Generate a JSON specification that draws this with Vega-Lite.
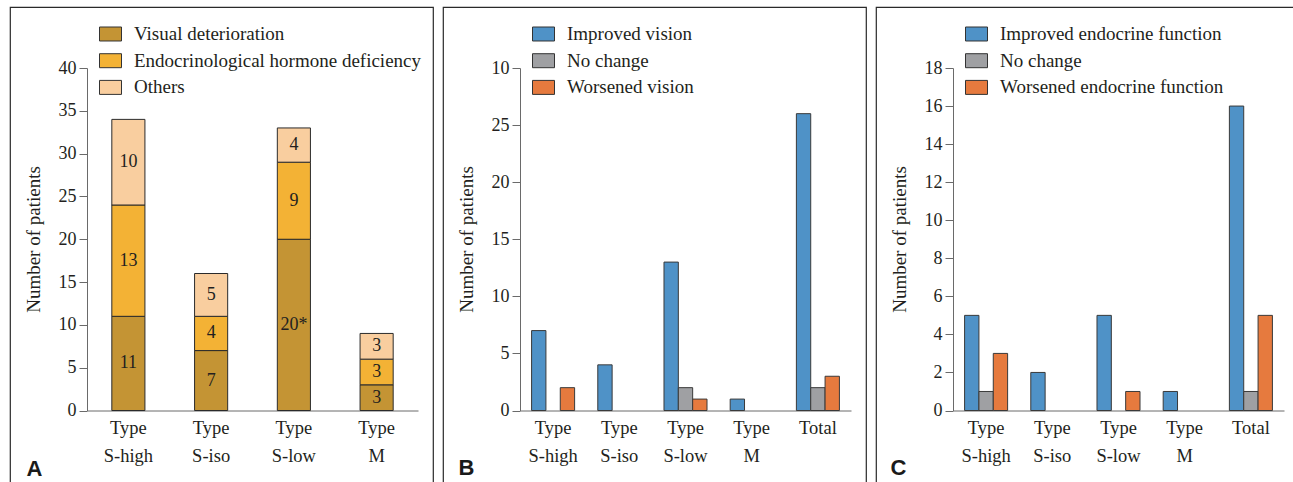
{
  "$schema": "https://vega.github.io/schema/vega-lite/v6.json",
  "padding": {"left": 9, "top": 6, "right": 0, "bottom": 0},
  "autosize": {"type": "pad"},
  "spacing": 8,
  "background": "white",
  "config": {
    "view": {"stroke": "#2a2a2a", "strokeWidth": 1.2},
    "font": "Liberation Serif",
    "axis": {
      "domainColor": "#6a6a6a",
      "tickColor": "#6a6a6a",
      "labelColor": "#231f20",
      "titleColor": "#231f20",
      "labelFont": "Liberation Serif",
      "titleFont": "Liberation Serif",
      "grid": false
    },
    "legend": {
      "labelFont": "Liberation Serif",
      "labelFontSize": 19,
      "labelColor": "#231f20",
      "labelLimit": 400,
      "padding": 0
    }
  },
  "datasets": {
    "A": [
      {"type": "Type S-high", "cat": "Visual deterioration", "k": 1, "n": 11, "label": "11"},
      {"type": "Type S-high", "cat": "Endocrinological hormone deficiency", "k": 2, "n": 13, "label": "13"},
      {"type": "Type S-high", "cat": "Others", "k": 3, "n": 10, "label": "10"},
      {"type": "Type S-iso", "cat": "Visual deterioration", "k": 1, "n": 7, "label": "7"},
      {"type": "Type S-iso", "cat": "Endocrinological hormone deficiency", "k": 2, "n": 4, "label": "4"},
      {"type": "Type S-iso", "cat": "Others", "k": 3, "n": 5, "label": "5"},
      {"type": "Type S-low", "cat": "Visual deterioration", "k": 1, "n": 20, "label": "20*"},
      {"type": "Type S-low", "cat": "Endocrinological hormone deficiency", "k": 2, "n": 9, "label": "9"},
      {"type": "Type S-low", "cat": "Others", "k": 3, "n": 4, "label": "4"},
      {"type": "Type M", "cat": "Visual deterioration", "k": 1, "n": 3, "label": "3"},
      {"type": "Type M", "cat": "Endocrinological hormone deficiency", "k": 2, "n": 3, "label": "3"},
      {"type": "Type M", "cat": "Others", "k": 3, "n": 3, "label": "3"}
    ],
    "B": [
      {"type": "Type S-high", "outcome": "Improved vision", "n": 7},
      {"type": "Type S-high", "outcome": "Worsened vision", "n": 2},
      {"type": "Type S-iso", "outcome": "Improved vision", "n": 4},
      {"type": "Type S-low", "outcome": "Improved vision", "n": 13},
      {"type": "Type S-low", "outcome": "No change", "n": 2},
      {"type": "Type S-low", "outcome": "Worsened vision", "n": 1},
      {"type": "Type M", "outcome": "Improved vision", "n": 1},
      {"type": "Total", "outcome": "Improved vision", "n": 26},
      {"type": "Total", "outcome": "No change", "n": 2},
      {"type": "Total", "outcome": "Worsened vision", "n": 3}
    ],
    "C": [
      {"type": "Type S-high", "outcome": "Improved endocrine function", "n": 5},
      {"type": "Type S-high", "outcome": "No change", "n": 1},
      {"type": "Type S-high", "outcome": "Worsened endocrine function", "n": 3},
      {"type": "Type S-iso", "outcome": "Improved endocrine function", "n": 2},
      {"type": "Type S-low", "outcome": "Improved endocrine function", "n": 5},
      {"type": "Type S-low", "outcome": "Worsened endocrine function", "n": 1},
      {"type": "Type M", "outcome": "Improved endocrine function", "n": 1},
      {"type": "Total", "outcome": "Improved endocrine function", "n": 16},
      {"type": "Total", "outcome": "No change", "n": 1},
      {"type": "Total", "outcome": "Worsened endocrine function", "n": 5}
    ]
  },
  "hconcat": [
    {
      "width": 423,
      "height": 480,
      "data": {"name": "A"},
      "encoding": {
        "x": {
          "field": "type", "type": "nominal",
          "sort": ["Type S-high", "Type S-iso", "Type S-low", "Type M"],
          "scale": {"range": [77, 408], "paddingInner": 0.6, "paddingOuter": 0.3},
          "axis": {
            "orient": "bottom", "offset": -76.5, "ticks": false, "labelPadding": 8,
            "labelAngle": 0, "labelFontSize": 18.5, "labelLineHeight": 27.5,
            "labelExpr": "split(datum.label, ' ')",
            "title": "A", "titleX": 16, "titleY": 64.5, "titleAlign": "left",
            "titleBaseline": "alphabetic", "titleFont": "Liberation Sans",
            "titleFontWeight": "bold", "titleFontSize": 22, "titleColor": "#1a1a1a"
          }
        }
      },
      "layer": [
        {
          "mark": {"type": "bar", "stroke": "#2b2b2b", "strokeWidth": 1},
          "encoding": {
            "y": {
              "field": "n", "type": "quantitative", "stack": "zero",
              "scale": {"domain": [0, 40], "range": [403.5, 61], "nice": false, "zero": true},
              "axis": {
                "orient": "left", "offset": -77, "values": [0, 5, 10, 15, 20, 25, 30, 35, 40],
                "tickSize": 8, "labelPadding": 3, "labelFontSize": 18,
                "title": "Number of patients", "titleFontSize": 19, "titleFontWeight": "normal",
                "titleX": -48, "titleY": 232, "titleAngle": -90, "titleAlign": "center",
                "titleBaseline": "alphabetic"
              }
            },
            "order": {"field": "k", "type": "quantitative"},
            "color": {
              "field": "cat", "type": "nominal",
              "scale": {
                "domain": ["Visual deterioration", "Endocrinological hormone deficiency", "Others"],
                "range": ["#c49434", "#f3b235", "#f9ce9f"]
              },
              "legend": {
                "orient": "none", "legendX": 89, "legendY": 15.5, "title": null,
                "symbolType": "M-1,-0.636H1V0.636H-1Z", "symbolSize": 484,
                "symbolStrokeColor": "#333333", "symbolStrokeWidth": 1, "symbolOpacity": 1,
                "labelOffset": 12, "rowPadding": 4.7
              }
            }
          }
        },
        {
          "mark": {"type": "text", "fontSize": 18, "color": "#231f20", "baseline": "middle", "font": "Liberation Serif"},
          "encoding": {
            "y": {"field": "n", "type": "quantitative", "stack": "zero", "bandPosition": 0.5},
            "order": {"field": "k", "type": "quantitative"},
            "detail": {"field": "cat"},
            "text": {"field": "label"}
          }
        }
      ]
    },
    {
      "width": 423,
      "height": 480,
      "data": {"name": "B"},
      "mark": {"type": "bar", "stroke": "#3a3a3a", "strokeWidth": 1},
      "encoding": {
        "x": {
          "field": "type", "type": "nominal",
          "sort": ["Type S-high", "Type S-iso", "Type S-low", "Type M", "Total"],
          "scale": {"range": [77, 408], "paddingInner": 0.35, "paddingOuter": 0.175},
          "axis": {
            "orient": "bottom", "offset": -76.5, "ticks": false, "labelPadding": 8,
            "labelAngle": 0, "labelFontSize": 18.5, "labelLineHeight": 27.5,
            "labelExpr": "split(datum.label, ' ')",
            "title": "B", "titleX": 15, "titleY": 63.5, "titleAlign": "left",
            "titleBaseline": "alphabetic", "titleFont": "Liberation Sans",
            "titleFontWeight": "bold", "titleFontSize": 22, "titleColor": "#1a1a1a"
          }
        },
        "xOffset": {
          "field": "outcome", "type": "nominal",
          "scale": {"domain": ["Improved vision", "No change", "Worsened vision"], "paddingInner": 0, "paddingOuter": 0}
        },
        "y": {
          "field": "n", "type": "quantitative",
          "scale": {"domain": [0, 30], "range": [403.5, 61], "nice": false},
          "axis": {
            "orient": "left", "offset": -77, "values": [0, 5, 10, 15, 20, 25, 30],
            "labelExpr": "datum.value == 30 ? '10' : datum.label",
            "tickSize": 8, "labelPadding": 3, "labelFontSize": 18,
            "title": "Number of patients", "titleFontSize": 19, "titleFontWeight": "normal",
            "titleX": -48, "titleY": 232, "titleAngle": -90, "titleAlign": "center",
            "titleBaseline": "alphabetic"
          }
        },
        "color": {
          "field": "outcome", "type": "nominal",
          "scale": {
            "domain": ["Improved vision", "No change", "Worsened vision"],
            "range": ["#4f92c7", "#9fa0a3", "#e67a3e"]
          },
          "legend": {
            "orient": "none", "legendX": 89, "legendY": 15.5, "title": null,
            "symbolType": "M-1,-0.636H1V0.636H-1Z", "symbolSize": 484,
            "symbolStrokeColor": "#333333", "symbolStrokeWidth": 1, "symbolOpacity": 1,
            "labelOffset": 12, "rowPadding": 4.7
          }
        }
      }
    },
    {
      "width": 423,
      "height": 480,
      "data": {"name": "C"},
      "mark": {"type": "bar", "stroke": "#3a3a3a", "strokeWidth": 1},
      "encoding": {
        "x": {
          "field": "type", "type": "nominal",
          "sort": ["Type S-high", "Type S-iso", "Type S-low", "Type M", "Total"],
          "scale": {"range": [77, 408], "paddingInner": 0.35, "paddingOuter": 0.175},
          "axis": {
            "orient": "bottom", "offset": -76.5, "ticks": false, "labelPadding": 8,
            "labelAngle": 0, "labelFontSize": 18.5, "labelLineHeight": 27.5,
            "labelExpr": "split(datum.label, ' ')",
            "title": "C", "titleX": 14, "titleY": 63.5, "titleAlign": "left",
            "titleBaseline": "alphabetic", "titleFont": "Liberation Sans",
            "titleFontWeight": "bold", "titleFontSize": 22, "titleColor": "#1a1a1a"
          }
        },
        "xOffset": {
          "field": "outcome", "type": "nominal",
          "scale": {"domain": ["Improved endocrine function", "No change", "Worsened endocrine function"], "paddingInner": 0, "paddingOuter": 0}
        },
        "y": {
          "field": "n", "type": "quantitative",
          "scale": {"domain": [0, 18], "range": [403.5, 61], "nice": false},
          "axis": {
            "orient": "left", "offset": -77, "values": [0, 2, 4, 6, 8, 10, 12, 14, 16, 18],
            "tickSize": 8, "labelPadding": 3, "labelFontSize": 18,
            "title": "Number of patients", "titleFontSize": 19, "titleFontWeight": "normal",
            "titleX": -48, "titleY": 232, "titleAngle": -90, "titleAlign": "center",
            "titleBaseline": "alphabetic"
          }
        },
        "color": {
          "field": "outcome", "type": "nominal",
          "scale": {
            "domain": ["Improved endocrine function", "No change", "Worsened endocrine function"],
            "range": ["#4f92c7", "#9fa0a3", "#e67a3e"]
          },
          "legend": {
            "orient": "none", "legendX": 89, "legendY": 15.5, "title": null,
            "symbolType": "M-1,-0.636H1V0.636H-1Z", "symbolSize": 484,
            "symbolStrokeColor": "#333333", "symbolStrokeWidth": 1, "symbolOpacity": 1,
            "labelOffset": 12, "rowPadding": 4.7
          }
        }
      }
    }
  ],
  "resolve": {"scale": {"color": "independent", "x": "independent", "y": "independent", "xOffset": "independent"}}
}
